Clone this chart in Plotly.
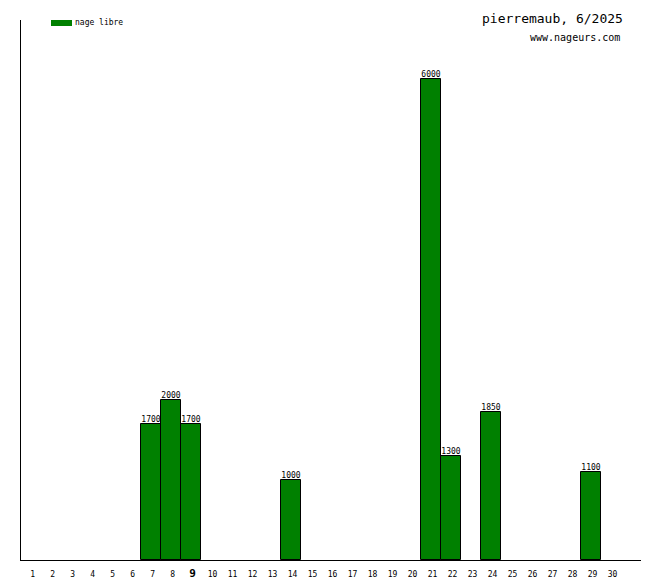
import plotly.graph_objects as go

days = list(range(1, 31))
bar_days = [7, 8, 9, 14, 21, 22, 24, 29]
bar_values = [1700, 2000, 1700, 1000, 6000, 1300, 1850, 1100]
tick_labels = [str(d) for d in days]
highlight_day = 9
series_name = "nage libre"
title_text = "pierremaub, 6/2025"
site_text = "www.nageurs.com"

FONT = "DejaVu Sans Mono"
GREEN = "#008000"

ticktext = [
    f"<b><span style='font-size:11px'>{t}</span></b>" if d == highlight_day else t
    for d, t in zip(days, tick_labels)
]

fig = go.Figure()
fig.add_trace(go.Bar(
    x=bar_days, y=bar_values, width=1,
    marker=dict(color=GREEN, line=dict(color="black", width=1)),
    name=series_name, showlegend=False,
))
fig.add_trace(go.Scatter(
    x=bar_days, y=bar_values, mode="text",
    text=[str(v) for v in bar_values], textposition="top center",
    textfont=dict(family=FONT, size=8, color="black"),
    cliponaxis=False, showlegend=False, hoverinfo="skip",
))

# page body adds an offset; compensate
W, H, OFFX, OFFY = 653, 572, 7, 8
fig.update_layout(
    width=W, height=H,
    margin=dict(l=20 - OFFX, r=W - (640 - OFFX), t=20 - OFFY, b=H - (560 - OFFY), autoexpand=False),
    paper_bgcolor="white", plot_bgcolor="white",
    bargap=0,
    xaxis=dict(range=[0.5, 31.5], showline=True, linecolor="black", linewidth=1,
               showgrid=False, zeroline=False, ticks="", automargin=False,
               tickvals=[d + 0.08 for d in days], ticktext=ticktext,
               ticklabelstandoff=6,
               tickfont=dict(family=FONT, size=8, color="black")),
    yaxis=dict(range=[0, 6736], showline=True, linecolor="black", linewidth=1,
               showgrid=False, zeroline=False, ticks="", showticklabels=False,
               automargin=False),
    shapes=[dict(type="rect", xref="paper", yref="paper",
                 x0=30/620, x1=51/620, y0=1-6/540, y1=1.0,
                 fillcolor=GREEN, line=dict(width=0))],
    annotations=[
        dict(text=series_name, xref="paper", yref="paper", x=52/620, y=1-2.5/540,
             xanchor="left", yanchor="middle", showarrow=False,
             font=dict(family=FONT, size=8, color="black")),
        dict(text=title_text, xref="paper", yref="paper", x=604/620, y=(560-18.5)/540,
             xanchor="right", yanchor="middle", showarrow=False,
             font=dict(family=FONT, size=13, color="black")),
        dict(text=site_text, xref="paper", yref="paper", x=601/620, y=(560-38)/540,
             xanchor="right", yanchor="middle", showarrow=False,
             font=dict(family=FONT, size=10, color="black")),
    ],
)

fig.write_html("out.html")
